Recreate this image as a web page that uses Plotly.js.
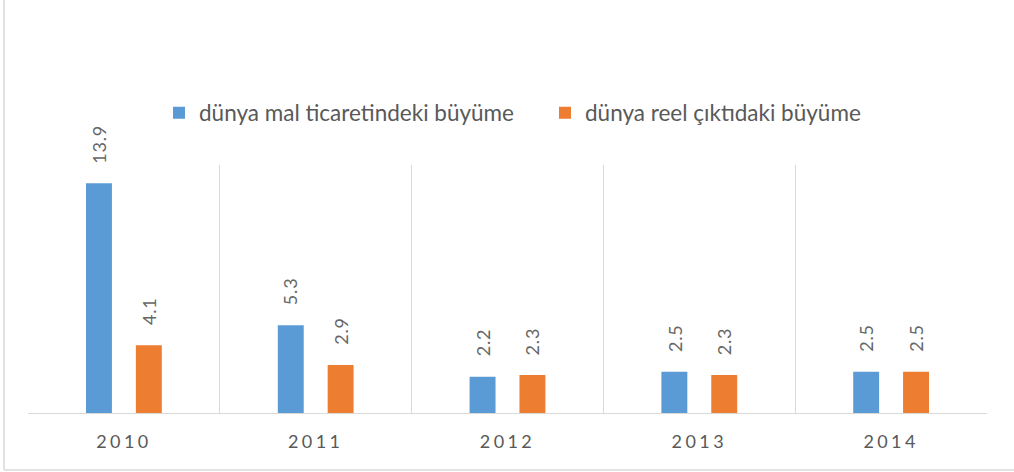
<!DOCTYPE html>
<html>
<head>
<meta charset="utf-8">
<script src="https://cdn.plot.ly/plotly-3.0.1.min.js"></script>
<style>
  html, body { margin: 0; padding: 0; background: #fff; }
  #chart { width: 1014px; height: 472px; }
  .xtick text { letter-spacing: 3.4px; }
  .annotation-text { letter-spacing: 0.8px; }
</style>
</head>
<body>
<div id="chart"></div>
<script>
const years = ['2010', '2011', '2012', '2013', '2014'];
const seriesNames = ['dünya mal ticaretindeki büyüme', 'dünya reel çıktıdaki büyüme'];
const tradeGrowth = [13.9, 5.3, 2.2, 2.5, 2.5];
const outputGrowth = [4.1, 2.9, 2.3, 2.3, 2.5];

const W = 1014, H = 472;
const M = { l: 28, r: 27, t: 165, b: 59 };
const bargap = 0.48;
const plotW = W - M.l - M.r;
const plotH = H - M.t - M.b;
const slotPx = plotW / years.length * (1 - bargap) / 2;

const textColor = '#595959';
const labelColor = '#666666';
const gridColor = '#D9D9D9';

const traces = [
  { type: 'bar', name: seriesNames[0], x: years, y: tradeGrowth,
    marker: { color: '#5B9BD5' }, hoverinfo: 'none' },
  { type: 'bar', name: seriesNames[1], x: years, y: outputGrowth,
    marker: { color: '#ED7D31' }, hoverinfo: 'none' }
];

const annotations = [];
[tradeGrowth, outputGrowth].forEach((vals, si) => {
  const shift = (si === 0 ? -1 : 1) * slotPx / 2;
  vals.forEach((v, i) => {
    annotations.push({
      x: i, y: v, xref: 'x', yref: 'y',
      text: v.toFixed(1), showarrow: false, textangle: -90,
      xanchor: 'center', yanchor: 'bottom', xshift: shift, yshift: 18,
      font: { family: 'Lato, sans-serif', size: 18, color: labelColor }
    });
  });
});

// chart frame (left and bottom edges visible in the reference)
const px2x = p => (p - M.l) / plotW;
const px2y = p => (H - M.b - p) / plotH;
const shapes = [
  { type: 'line', xref: 'paper', yref: 'paper', x0: px2x(4), x1: px2x(4), y0: px2y(0), y1: px2y(470),
    line: { color: gridColor, width: 1.5 } },
  { type: 'line', xref: 'paper', yref: 'paper', x0: px2x(4), x1: px2x(1014), y0: px2y(470), y1: px2y(470),
    line: { color: gridColor, width: 1.5 } }
];

const layout = {
  width: W, height: H,
  margin: M,
  paper_bgcolor: '#fff', plot_bgcolor: '#fff',
  barmode: 'group', bargap: bargap, bargroupgap: 0.48,
  font: { family: 'Lato, sans-serif', color: textColor },
  showlegend: true,
  legend: {
    orientation: 'h', x: px2x(159), xanchor: 'left', y: px2y(113), yanchor: 'middle',
    entrywidth: 341, entrywidthmode: 'pixels',
    font: { family: 'Lato, sans-serif', size: 22.5, color: textColor },
    bgcolor: 'rgba(0,0,0,0)'
  },
  xaxis: {
    type: 'category', tickson: 'boundaries', showgrid: true, gridcolor: gridColor, gridwidth: 1,
    showline: true, linecolor: gridColor, linewidth: 1, ticks: '',
    tickfont: { family: 'Lato, sans-serif', size: 18, color: textColor },
    ticklabelstandoff: 12, range: [-0.5, 4.5], fixedrange: true, zeroline: false
  },
  yaxis: {
    range: [0, 15], showgrid: false, zeroline: false, showticklabels: false,
    showline: false, ticks: '', fixedrange: true
  },
  annotations: annotations,
  shapes: shapes
};

Plotly.newPlot('chart', traces, layout, { displayModeBar: false, staticPlot: true });
</script>
</body>
</html>
